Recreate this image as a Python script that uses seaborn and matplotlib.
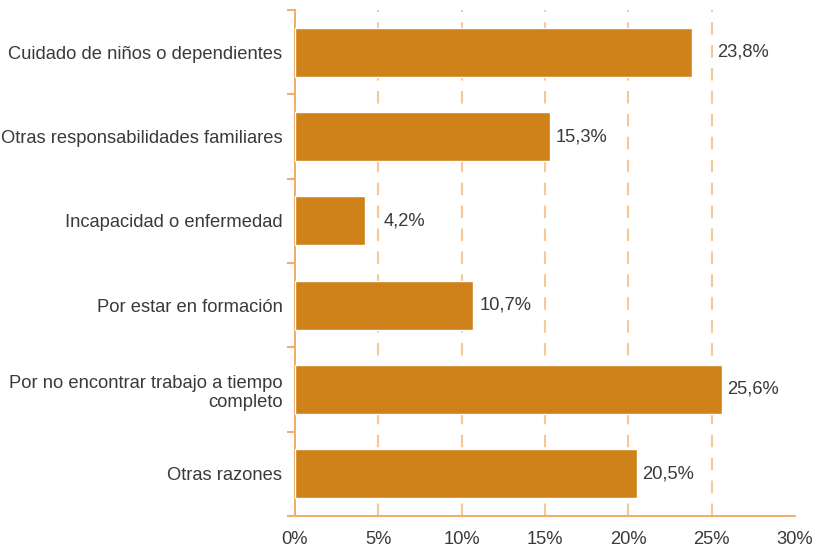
import matplotlib
matplotlib.use("Agg")
import matplotlib.pyplot as plt
import seaborn as sns
import pandas as pd
import numpy as np
from matplotlib.ticker import FixedLocator

categories = [
    "Cuidado de niños o dependientes",
    "Otras responsabilidades familiares",
    "Incapacidad o enfermedad",
    "Por estar en formación",
    "Por no encontrar trabajo a tiempo\ncompleto",
    "Otras razones",
]
values = [23.8, 15.3, 4.2, 10.7, 25.6, 20.5]
x_ticks = [0, 5, 10, 15, 20, 25, 30]
x_tick_labels = ["0%", "5%", "10%", "15%", "20%", "25%", "30%"]

sns.set_style("white")
plt.rcParams["font.family"] = ["Liberation Sans", "DejaVu Sans"]

bar_color = "#CF8219"
axis_color = "#EDB070"
grid_color = "#F5C896"
text_color = "#3a3a3a"
fs = 13.2

df = pd.DataFrame({"cat": categories, "val": values})

fig = plt.figure(figsize=(8.2, 5.52), dpi=100)
ax = fig.add_axes([295 / 820, 1 - 516 / 552, 500 / 820, (516 - 10) / 552])

sns.barplot(data=df, x="val", y="cat", orient="h", color=bar_color,
            width=0.58, saturation=1, ax=ax, zorder=3)

grid_x = x_ticks[1:-1]
for xv in grid_x:
    ax.axvline(xv, color=grid_color, lw=1.5, ls=(0, (6, 5)), zorder=1)

ax.set_xlim(0, 30)
ax.set_ylim(5.5, -0.5)
ax.set_xticks(x_ticks)
ax.set_xticklabels(x_tick_labels, fontsize=fs, color=text_color)
ax.set_xlabel("")
ax.set_ylabel("")
ax.tick_params(axis="y", which="major", length=0, pad=9, labelsize=fs, labelcolor=text_color)
ax.yaxis.set_minor_locator(FixedLocator(np.arange(-0.5, 6, 1.0)))
ax.tick_params(axis="y", which="minor", length=6, width=1.5, color=axis_color, left=True)
ax.tick_params(axis="x", which="major", length=6, width=1.5, color=axis_color, pad=5)

for s in ["top", "right"]:
    ax.spines[s].set_visible(False)
for s in ["left", "bottom"]:
    ax.spines[s].set_color(axis_color)
    ax.spines[s].set_linewidth(1.5)

for i, v in enumerate(values):
    lx = v + 0.35
    for g in grid_x:
        if 0 < g - v < 1.3:
            lx = g + 0.3
    ax.text(lx, i, f"{v:.1f}%".replace(".", ","), va="center", ha="left",
            fontsize=fs, color=text_color)

fig.savefig("out.png", dpi=100)
